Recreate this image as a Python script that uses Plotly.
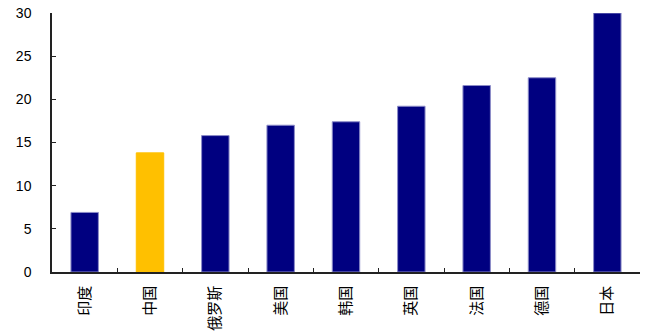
import plotly.graph_objects as go

# 各国数值
countries = ["印度", "中国", "俄罗斯", "美国", "韩国", "英国", "法国", "德国", "日本"]
values = [6.9, 13.8, 15.8, 17.0, 17.4, 19.2, 21.6, 22.5, 30.0]
highlight = "中国"

colors = ["#FFC000" if c == highlight else "#000080" for c in countries]
edge = ["#FFC000" if c == highlight else "#8c8cc8" for c in countries]

fig = go.Figure(
    go.Bar(
        x=countries,
        y=values,
        width=0.42,
        marker=dict(color=colors, line=dict(color=edge, width=1)),
    )
)

fig.update_layout(
    width=645,
    height=336,
    margin=dict(l=52, r=5, t=12, b=63),
    paper_bgcolor="white",
    plot_bgcolor="white",
    showlegend=False,
)

fig.update_xaxes(
    type="category",
    range=[-0.5, 8.5],
    showline=True,
    linecolor="#222222",
    linewidth=1.5,
    ticks="inside",
    ticklen=4,
    tickcolor="#222222",
    tickson="boundaries",
    tickangle=-90,
    tickfont=dict(family="Noto Sans CJK SC", size=15, color="black"),
    ticklabelstandoff=6,
    showgrid=False,
    zeroline=False,
)

fig.update_yaxes(
    range=[0, 30],
    dtick=5,
    showline=True,
    linecolor="#222222",
    linewidth=1.5,
    ticks="inside",
    ticklen=4,
    tickcolor="#222222",
    tickfont=dict(family="Liberation Sans", size=14, color="black"),
    ticklabelstandoff=16,
    showgrid=False,
    zeroline=False,
)

fig.write_html("out.html")
